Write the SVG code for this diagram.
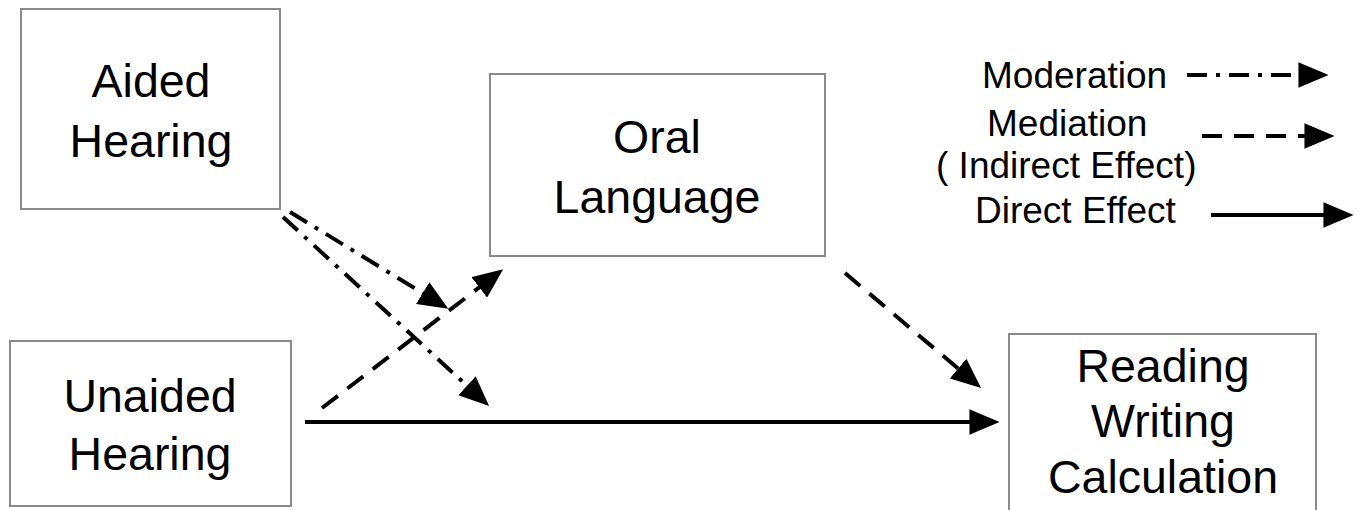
<svg xmlns="http://www.w3.org/2000/svg" width="1366" height="510" viewBox="0 0 1366 510">
<defs>
<style>
.box{fill:#fff;stroke:#8a8a8a;stroke-width:2}
.lbl{font-family:"Liberation Sans",Arial,sans-serif;font-size:46.5px;fill:#000;text-anchor:middle}
.leg{font-family:"Liberation Sans",Arial,sans-serif;font-size:37px;fill:#000}
.c{fill:none;stroke:#000;stroke-width:4}
.mod{stroke-dasharray:20 9 4 9}
.med{stroke-dasharray:20 12}
</style>
<marker id="ah" markerUnits="userSpaceOnUse" markerWidth="30" markerHeight="26" refX="8" refY="12" orient="auto" viewBox="0 0 28 24">
<path d="M0,0 L28,12 L0,24 z" fill="#000"/>
</marker>
</defs>
<rect width="1366" height="510" fill="#fff"/>
<g id="aided">
<rect class="box" x="21" y="9" width="259" height="200"/>
<text class="lbl" x="151" y="97">Aided</text>
<text class="lbl" x="151" y="157">Hearing</text>
</g>
<g id="unaided">
<rect class="box" x="10" y="341" width="281" height="165"/>
<text class="lbl" x="150" y="412">Unaided</text>
<text class="lbl" x="150" y="470">Hearing</text>
</g>
<g id="oral">
<rect class="box" x="490" y="74" width="335" height="182"/>
<text class="lbl" x="657" y="153">Oral</text>
<text class="lbl" x="657" y="213">Language</text>
</g>
<g id="outcome">
<rect class="box" x="1009" y="334" width="307" height="190"/>
<text class="lbl" x="1163" y="382">Reading</text>
<text class="lbl" x="1163" y="437">Writing</text>
<text class="lbl" x="1163" y="493">Calculation</text>
</g>
<g id="connectors">
<line class="c mod" x1="290" y1="212" x2="430" y2="297.6" marker-end="url(#ah)"/>
<line class="c mod" x1="283" y1="217" x2="473.3" y2="391.5" marker-end="url(#ah)"/>
<line class="c med" x1="322" y1="408" x2="486.1" y2="282.2" marker-end="url(#ah)"/>
<line class="c med" x1="845" y1="273" x2="964.7" y2="374.1" marker-end="url(#ah)"/>
<line class="c" x1="305" y1="422" x2="978" y2="422" marker-end="url(#ah)"/>
</g>
<g id="legend">
<text class="leg" x="982" y="88">Moderation</text>
<line class="c mod" x1="1187" y1="75" x2="1307" y2="75" marker-end="url(#ah)"/>
<text class="leg" x="987" y="136">Mediation</text>
<line class="c med" x1="1202" y1="136" x2="1313" y2="136" marker-end="url(#ah)"/>
<text class="leg" x="936" y="178">( Indirect Effect)</text>
<text class="leg" x="975" y="223">Direct Effect</text>
<line class="c" x1="1211" y1="215" x2="1332" y2="215" marker-end="url(#ah)"/>
</g>
</svg>
